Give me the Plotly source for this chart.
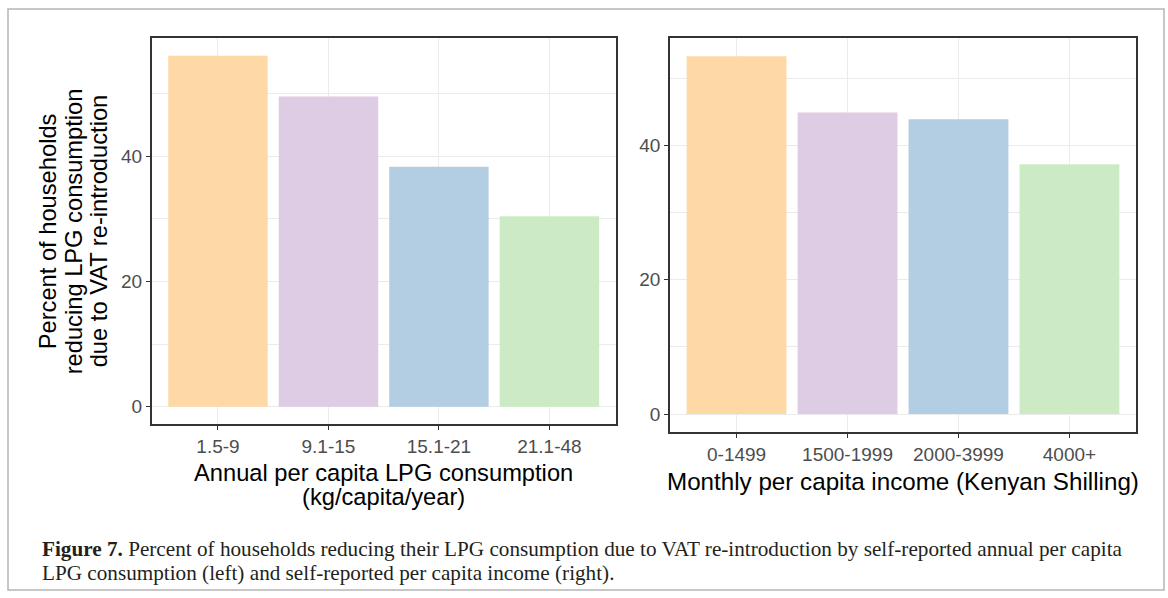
import plotly.graph_objects as go

# ---- data ----
lpg_categories = ["1.5-9", "9.1-15", "15.1-21", "21.1-48"]
lpg_percent = [56.0, 49.5, 38.3, 30.4]
income_categories = ["0-1499", "1500-1999", "2000-3999", "4000+"]
income_percent = [53.3, 44.9, 43.9, 37.2]
bar_colors = ["#FED9A6", "#DECBE4", "#B3CDE3", "#CCEBC5"]
y_tick_values = [0, 20, 40]

y_title_lines = ["Percent of households", "reducing LPG consumption", "due to VAT re-introduction"]
x_title_left = ["Annual per capita LPG consumption", "(kg/capita/year)"]
x_title_right = "Monthly per capita income (Kenyan Shilling)"
caption_line1 = ("<b>Figure 7.</b> Percent of households reducing their LPG consumption due to VAT "
                 "re-introduction by self-reported annual per capita")
caption_line2 = "LPG consumption (left) and self-reported per capita income (right)."

W, H = 1168, 598
SANS = "Liberation Sans, Arial, sans-serif"
SERIF = "Liberation Serif, Times New Roman, serif"


def px_x(x):
    return x / W


def px_y(y):
    return 1 - y / H


def yrange(vals):
    m = max(vals)
    return [-0.05 * m, 1.05 * m]


fig = go.Figure()
fig.add_trace(go.Bar(x=lpg_categories, y=lpg_percent, marker=dict(color=bar_colors, line=dict(width=0)),
                     width=0.9, xaxis="x", yaxis="y", showlegend=False))
fig.add_trace(go.Bar(x=income_categories, y=income_percent, marker=dict(color=bar_colors, line=dict(width=0)),
                     width=0.9, xaxis="x2", yaxis="y2", showlegend=False))

tickfont = dict(family=SANS, size=19, color="#4D4D4D")
common_x = dict(type="category", showgrid=True, gridcolor="#EBEBEB", gridwidth=1.2,
                showline=True, mirror=True, linecolor="#333333", linewidth=1.5,
                ticks="outside", ticklen=4, tickwidth=1.2, tickcolor="#333333",
                tickfont=tickfont, range=[-0.6, 3.6], zeroline=False)
common_y = dict(showgrid=True, gridcolor="#EBEBEB", gridwidth=1.2,
                showline=True, mirror=True, linecolor="#333333", linewidth=1.5,
                ticks="outside", ticklen=4, tickwidth=1.2, tickcolor="#333333",
                tickfont=tickfont, tickvals=y_tick_values, zeroline=False,
                minor=dict(dtick=10, tick0=0, showgrid=True, gridcolor="#EBEBEB", gridwidth=1, ticks=""))

fig.update_layout(
    width=W, height=H,
    margin=dict(l=0, r=0, t=0, b=0),
    paper_bgcolor="white", plot_bgcolor="white",
    bargap=0.1,
    xaxis=dict(common_x, domain=[px_x(151.7), px_x(615.7)], anchor="y"),
    yaxis=dict(common_y, domain=[px_y(424.3), px_y(38.3)], anchor="x", range=yrange(lpg_percent)),
    xaxis2=dict(common_x, domain=[px_x(670), px_x(1136)], anchor="y2"),
    yaxis2=dict(common_y, domain=[px_y(432), px_y(38.3)], anchor="x2", range=yrange(income_percent)),
)

TITLE_SIZE = 23.7
ann = []
# y-axis title (three lines)
for line, xc in zip(y_title_lines, [48, 74, 99]):
    ann.append(dict(text=line, x=px_x(xc), y=px_y(231.3), xref="paper", yref="paper",
                    textangle=-90, showarrow=False, xanchor="center", yanchor="middle",
                    font=dict(family=SANS, size=TITLE_SIZE, color="#000000")))
# left x title
for line, yc in zip(x_title_left, [473, 497]):
    ann.append(dict(text=line, x=px_x(383.7), y=px_y(yc), xref="paper", yref="paper",
                    showarrow=False, xanchor="center", yanchor="middle",
                    font=dict(family=SANS, size=TITLE_SIZE, color="#000000")))
# right x title
ann.append(dict(text=x_title_right, x=px_x(903), y=px_y(481), xref="paper", yref="paper",
                showarrow=False, xanchor="center", yanchor="middle",
                font=dict(family=SANS, size=24.2, color="#000000")))
# caption
for line, yc in zip([caption_line1, caption_line2], [549, 573]):
    ann.append(dict(text=line, x=px_x(40), y=px_y(yc), xref="paper", yref="paper",
                    showarrow=False, xanchor="left", yanchor="middle",
                    font=dict(family=SERIF, size=21.2, color="#231F20")))
fig.update_layout(annotations=ann)

# outer frame of the figure
fig.add_shape(type="rect", xref="paper", yref="paper",
              x0=px_x(8), x1=px_x(1164), y0=px_y(590), y1=px_y(9),
              line=dict(color="#B5B5B5", width=1.5), fillcolor="rgba(0,0,0,0)", layer="below")

fig.write_html("out.html",
               config={"displayModeBar": False},
               post_script="document.body.style.margin='0';document.body.style.padding='0';"
                           "document.documentElement.style.overflow='hidden';")
